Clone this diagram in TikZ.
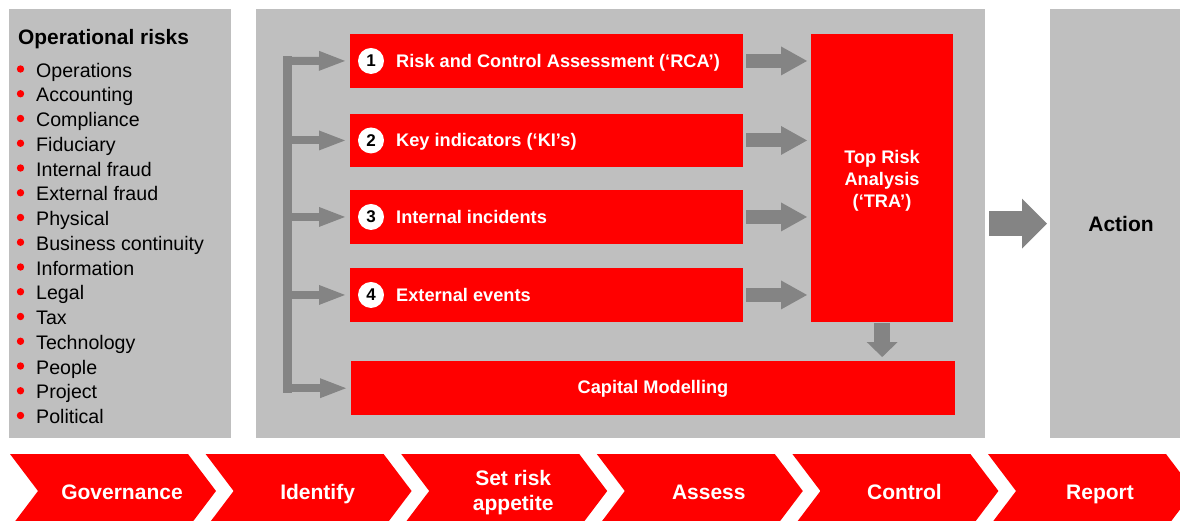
\documentclass[tikz,border=0pt]{standalone}
\usepackage{fontspec}
\setmainfont{Liberation Sans}
\usetikzlibrary{arrows.meta}
\definecolor{kred}{RGB}{255,0,0}
\definecolor{panelgray}{RGB}{191,191,191}
\definecolor{arrgray}{RGB}{132,132,132}
\newcommand\rbfont{\bfseries\fontsize{18.2}{22}\selectfont}
\newcommand\chfont{\bfseries\fontsize{21}{25}\selectfont}
\begin{document}
\begin{tikzpicture}[x=1pt,y=-1pt,
  panel/.style={fill=panelgray, inner sep=0pt, anchor=north west},
  redbox/.style={fill=kred, inner sep=0pt, anchor=north west, text=white, font=\rbfont, align=center},
  boxtext/.style={text=white, inner sep=0pt, anchor=base west, font=\rbfont},
  numcirc/.style={circle, fill=white, inner sep=0pt, minimum size=26pt, text=black, font=\bfseries\fontsize{17}{17}\selectfont},
  itemtext/.style={inner sep=0pt, anchor=base west, font=\fontsize{19.6}{24}\selectfont},
  chevtext/.style={inner sep=0pt, anchor=base, text=white, font=\chfont, align=center},
  branch/.style={draw=arrgray, line width=8pt, -{Triangle[width=20pt,length=26pt,line width=0pt]}, shorten >=5pt},
  feed/.style={draw=arrgray, line width=14pt, -{Triangle[width=29pt,length=26pt,line width=0pt]}, shorten <=3pt, shorten >=4pt},
  bar/.style={draw=arrgray, line width=9pt, line cap=rect},
  downarrow/.style={draw=arrgray, line width=16pt, -{Triangle[width=31pt,length=15pt,line width=0pt]}, shorten <=1pt, shorten >=4pt},
  bigarrow/.style={draw=arrgray, line width=25pt, -{Triangle[width=50pt,length=25pt,line width=0pt]}, shorten <=4pt, shorten >=3pt}
]
\useasboundingbox (0,0) rectangle (1180,520);

% panels
\node[panel, minimum width=222pt, minimum height=429pt] (left) at (9,9) {};
\node[panel, minimum width=729pt, minimum height=429pt] (mid) at (256,9) {};
\node[panel, minimum width=130pt, minimum height=429pt] (act) at (1050,9) {};

% left list
\node[inner sep=0pt, anchor=base west, font=\bfseries\fontsize{20.9}{24}\selectfont] (title) at (18,44) {Operational risks};
\foreach \t [count=\i from 0] in {Operations,Accounting,Compliance,Fiduciary,Internal fraud,External fraud,Physical,Business continuity,Information,Legal,Tax,Technology,People,Project,Political}{
  \fill[kred] (20.5,{69+24.75*\i}) circle[radius=3.7pt];
  \node[itemtext] (item\i) at (36,{77+24.75*\i}) {\t};
}

% red boxes
\node[redbox, minimum width=393pt, minimum height=53.5pt] (r1) at (350,34) {};
\node[redbox, minimum width=393pt, minimum height=53.5pt] (r2) at (350,113.5) {};
\node[redbox, minimum width=393pt, minimum height=53.5pt] (r3) at (350,190) {};
\node[redbox, minimum width=393pt, minimum height=53.5pt] (r4) at (350,268) {};
\node[redbox, minimum width=604pt, minimum height=54pt] (cap) at (351,361) {};
\node[boxtext, anchor=base] (captext) at (653,393.5) {Capital Modelling};
\node[redbox, minimum width=142pt, minimum height=288pt] (tra) at (811,34) {};
\node[boxtext, anchor=base, align=center] (tratext) at (882,207) {Top Risk\\Analysis\\(‘TRA’)};

\node[numcirc] (c1) at ([xshift=21pt]r1.west) {1};
\node[numcirc] (c2) at ([xshift=21pt]r2.west) {2};
\node[numcirc] (c3) at ([xshift=21pt]r3.west) {3};
\node[numcirc] (c4) at ([xshift=21pt]r4.west) {4};
\node[boxtext] (t1) at ([xshift=46pt,yshift=-6.5pt]r1.west) {Risk and Control Assessment (‘RCA’)};
\node[boxtext] (t2) at ([xshift=46pt,yshift=-6.5pt]r2.west) {Key indicators (‘KI’s)};
\node[boxtext] (t3) at ([xshift=46pt,yshift=-6.5pt]r3.west) {Internal incidents};
\node[boxtext] (t4) at ([xshift=46pt,yshift=-6.5pt]r4.west) {External events};

% bracket
\coordinate (bt) at (287.5,60.75);
\draw[bar] (bt) -- (bt |- cap.west);
\draw[branch] (bt) -- (r1.west);
\draw[branch] (bt |- r2.west) -- (r2.west);
\draw[branch] (bt |- r3.west) -- (r3.west);
\draw[branch] (bt |- r4.west) -- (r4.west);
\draw[branch] (bt |- cap.west) -- (cap.west);

% feeds into TRA
\draw[feed] (r1.east) -- (r1.east -| tra.west);
\draw[feed] (r2.east) -- (r2.east -| tra.west);
\draw[feed] (r3.east) -- (r3.east -| tra.west);
\draw[feed] (r4.east) -- (r4.east -| tra.west);
\draw[downarrow] (tra.south) -- (tra.south |- cap.north);

% action
\draw[bigarrow] (mid.east) -- (act.west);
\node[inner sep=0pt, anchor=base, font=\chfont] (actiontext) at (1121,231.7) {Action};

% chevrons
\foreach \i in {0,...,5}{
  \pgfmathsetmacro\s{10+195.6*\i}
  \fill[kred] (\s,454) -- ++(178,0) -- ++(28,37) -- ++(-28,37) -- ++(-178,0) -- ++(28,-37) -- cycle;
}
\node[chevtext] (ch1) at (122,499) {Governance};
\node[chevtext] (ch2) at (317.6,499) {Identify};
\node[chevtext] (ch3) at (513.2,510) {Set risk\\appetite};
\node[chevtext] (ch4) at (708.8,499) {Assess};
\node[chevtext] (ch5) at (904.4,499) {Control};
\node[chevtext] (ch6) at (1100,499) {Report};
\end{tikzpicture}
\end{document}
